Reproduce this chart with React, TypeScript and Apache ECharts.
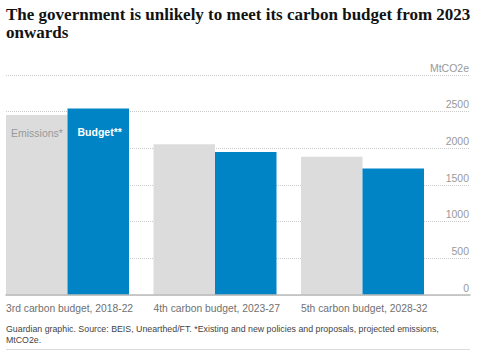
import React, { useEffect, useRef } from "react";
import * as echarts from "echarts";

const categories = [
  "3rd carbon budget, 2018-22",
  "4th carbon budget, 2023-27",
  "5th carbon budget, 2028-32",
];
const emissions = [2455, 2055, 1885];
const budget = [2544, 1950, 1725];
const yTicks = [0, 500, 1000, 1500, 2000, 2500, 3000];
const unitLabel = "MtCO2e";
const titleText = "The government is unlikely to meet its carbon budget from 2023\nonwards";
const footerText =
  "Guardian graphic. Source: BEIS, Unearthed/FT. *Existing and new policies and proposals, projected emissions,\nMtCO2e.";

export default function App() {
  const ref = useRef<HTMLDivElement>(null);
  useEffect(() => {
    if (!ref.current) return;
    const chart = echarts.init(ref.current, null, { renderer: "svg" });
    const yMax = yTicks[yTicks.length - 1];
    const sans = "'Liberation Sans', Arial, sans-serif";
    chart.setOption({
      animation: false,
      backgroundColor: "#ffffff",
      title: [
        {
          text: titleText,
          left: 6,
          top: 5,
          padding: 0,
          textStyle: {
            fontFamily: "'Liberation Serif', serif",
            fontWeight: "bold",
            fontSize: 17,
            lineHeight: 18,
            color: "#121212",
          },
        },
        {
          text: footerText,
          left: 6,
          top: 323,
          padding: 0,
          textStyle: {
            fontFamily: sans,
            fontWeight: "normal",
            fontSize: 8.8,
            lineHeight: 11,
            color: "#444444",
          },
        },
      ],
      grid: [
        { left: 6, top: 75, width: 442.5, height: 220, containLabel: false },
        { left: 6, top: 75, width: 464, height: 220, containLabel: false },
      ],
      xAxis: [
        {
          type: "category",
          gridIndex: 0,
          data: categories,
          boundaryGap: true,
          axisLine: { show: false },
          axisTick: { show: false },
          axisLabel: { show: false },
        },
        {
          type: "category",
          gridIndex: 0,
          data: [...categories, ""],
          boundaryGap: false,
          position: "bottom",
          axisLine: { show: false },
          axisTick: { show: false },
          axisLabel: {
            show: true,
            align: "left",
            margin: 8,
            interval: 0,
            fontFamily: sans,
            fontSize: 10.3,
            color: "#707070",
          },
        },
        {
          type: "category",
          gridIndex: 1,
          data: categories,
          z: 5,
          axisLine: { show: true, lineStyle: { color: "#bbbbbb", width: 1.5 } },
          axisTick: { show: false },
          axisLabel: { show: false },
        },
      ],
      yAxis: [
        { type: "value", gridIndex: 0, min: 0, max: yMax, interval: 500, show: false },
        {
          type: "value",
          gridIndex: 1,
          min: 0,
          max: yMax,
          interval: 500,
          position: "right",
          axisLine: { show: false },
          axisTick: { show: false },
          splitLine: { show: true, lineStyle: { color: "#cccccc", type: [1, 1], width: 1 } },
          axisLabel: {
            inside: true,
            margin: 1,
            verticalAlign: "bottom",
            padding: [0, 0, 2, 0],
            fontFamily: sans,
            fontSize: 10.5,
            color: "#999999",
            formatter: (v: number) => (v === yMax ? unitLabel : String(v)),
          },
        },
      ],
      series: [
        {
          name: "Emissions*",
          type: "bar",
          xAxisIndex: 0,
          yAxisIndex: 0,
          barWidth: 61.5,
          barGap: "0%",
          itemStyle: { color: "#dcdcdc" },
          data: emissions.map((v, i) =>
            i === 0
              ? {
                  value: v,
                  label: {
                    show: true,
                    position: [5, 12.5],
                    formatter: "{a}",
                    fontFamily: sans,
                    fontSize: 10.5,
                    color: "#999999",
                  },
                }
              : v
          ),
        },
        {
          name: "Budget**",
          type: "bar",
          xAxisIndex: 0,
          yAxisIndex: 0,
          barWidth: 61.5,
          barGap: "0%",
          itemStyle: { color: "#0084c6" },
          data: budget.map((v, i) =>
            i === 0
              ? {
                  value: v,
                  label: {
                    show: true,
                    position: [10, 18.5],
                    formatter: "{a}",
                    fontFamily: sans,
                    fontSize: 10.5,
                    fontWeight: "bold",
                    color: "#ffffff",
                  },
                }
              : v
          ),
        },
        {
          name: "spacer",
          type: "bar",
          xAxisIndex: 0,
          yAxisIndex: 0,
          barWidth: 24.5,
          barGap: "0%",
          silent: true,
          itemStyle: { color: "transparent" },
          data: categories.map(() => null),
        },
      ],
      graphic: [
        {
          type: "line",
          shape: { x1: 6, y1: 349.5, x2: 470, y2: 349.5 },
          style: { stroke: "#dcdcdc", lineWidth: 1 },
        },
      ],
    });
    return () => chart.dispose();
  }, []);
  return (
    <div
      ref={ref}
      style={{ position: "fixed", left: 0, top: 0, width: 485, height: 352 }}
    />
  );
}
